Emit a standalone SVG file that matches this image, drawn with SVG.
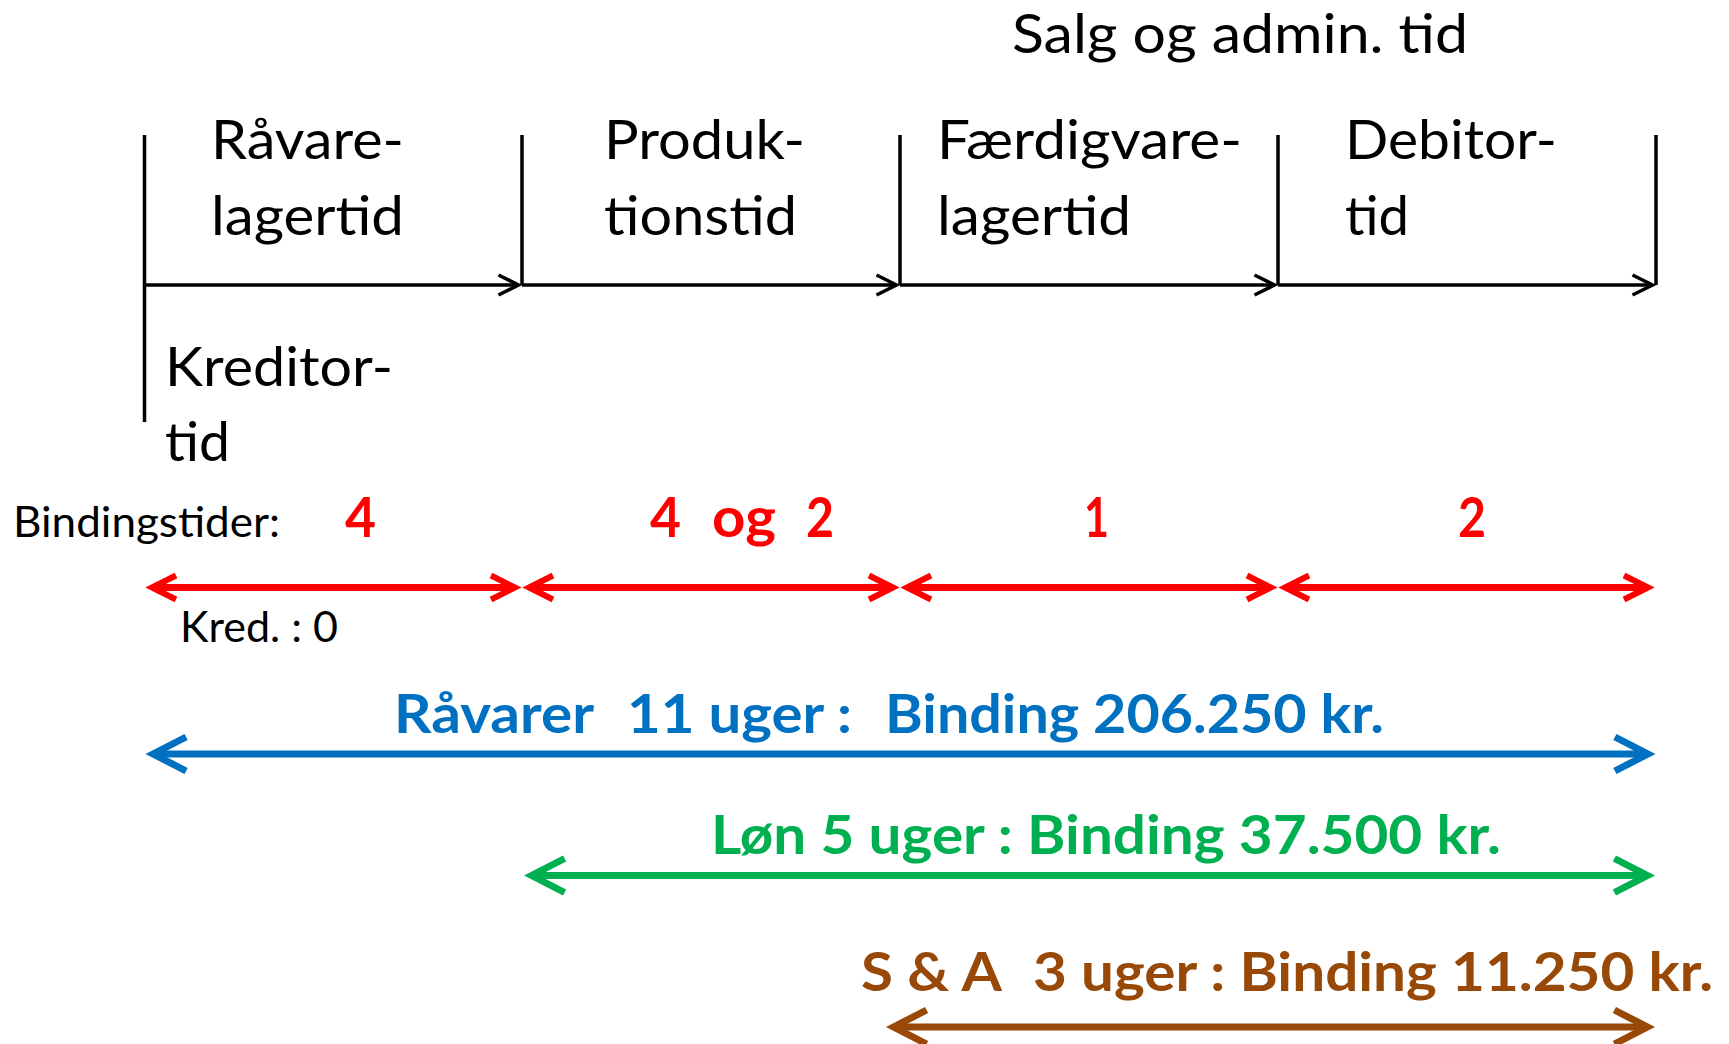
<svg xmlns="http://www.w3.org/2000/svg" width="1729" height="1044" viewBox="0 0 1729 1044">
<style>
  .lbl { font-family: "Lato", "Open Sans", sans-serif; font-size: 54px; fill: #000; }
  .sm { font-family: "Lato", "Open Sans", sans-serif; font-size: 42px; fill: #000; }
  .b { font-family: "Lato", "Open Sans", sans-serif; font-weight: bold; font-size: 54px; }
  .dg { font-size: 56px; }
  .red { fill: #FF0000; }
  .blue { fill: #0070C0; }
  .green { fill: #00B050; }
  .brown { fill: #984807; }
  .tl { stroke: #000; stroke-width: 3.5; fill: none; }
  .ar { fill: none; stroke-width: 7; }
</style>
<defs>
  <marker id="mBlack" markerUnits="userSpaceOnUse" orient="auto-start-reverse" refX="-0.5" refY="0" overflow="visible">
    <path d="M -20,-10 L 0,0 L -20,10" fill="none" stroke="#000" stroke-width="3.5"/>
  </marker>
  <marker id="mRed" markerUnits="userSpaceOnUse" orient="auto-start-reverse" refX="-2" refY="0" overflow="visible">
    <path d="M -24,-12 L 0,0 L -24,12" fill="none" stroke="#FF0000" stroke-width="6"/>
  </marker>
  <marker id="mBlue" markerUnits="userSpaceOnUse" orient="auto-start-reverse" refX="-2.4" refY="0" overflow="visible">
    <path d="M -33,-17 L 0,0 L -33,17" fill="none" stroke="#0070C0" stroke-width="7"/>
  </marker>
  <marker id="mGreen" markerUnits="userSpaceOnUse" orient="auto-start-reverse" refX="-2.4" refY="0" overflow="visible">
    <path d="M -33,-17 L 0,0 L -33,17" fill="none" stroke="#00B050" stroke-width="7"/>
  </marker>
  <marker id="mBrown" markerUnits="userSpaceOnUse" orient="auto-start-reverse" refX="-2.4" refY="0" overflow="visible">
    <path d="M -33,-17 L 0,0 L -33,17" fill="none" stroke="#984807" stroke-width="7"/>
  </marker>
</defs>
<rect width="1729" height="1044" fill="#fff"/>

<g id="timeline">
  <line class="tl" x1="144.5" y1="135" x2="144.5" y2="422"/>
  <line class="tl" x1="522" y1="135" x2="522" y2="285"/>
  <line class="tl" x1="900" y1="135" x2="900" y2="285"/>
  <line class="tl" x1="1278" y1="135" x2="1278" y2="285"/>
  <line class="tl" x1="1656" y1="135" x2="1656" y2="285"/>
</g>

<g id="connectors">
  <path class="tl" d="M 144.5,285 H 518" marker-end="url(#mBlack)"/>
  <path class="tl" d="M 522,285 H 896" marker-end="url(#mBlack)"/>
  <path class="tl" d="M 900,285 H 1274" marker-end="url(#mBlack)"/>
  <path class="tl" d="M 1278,285 H 1652" marker-end="url(#mBlack)"/>

  <path class="ar" stroke="#FF0000" stroke-width="6" d="M 154,587.5 H 513" marker-start="url(#mRed)" marker-end="url(#mRed)"/>
  <path class="ar" stroke="#FF0000" stroke-width="6" d="M 531,587.5 H 891" marker-start="url(#mRed)" marker-end="url(#mRed)"/>
  <path class="ar" stroke="#FF0000" stroke-width="6" d="M 909,587.5 H 1269" marker-start="url(#mRed)" marker-end="url(#mRed)"/>
  <path class="ar" stroke="#FF0000" stroke-width="6" d="M 1287,587.5 H 1646" marker-start="url(#mRed)" marker-end="url(#mRed)"/>

  <path class="ar" stroke="#0070C0" d="M 155.5,754 H 1645.5" marker-start="url(#mBlue)" marker-end="url(#mBlue)"/>
  <path class="ar" stroke="#00B050" d="M 534,875.5 H 1645" marker-start="url(#mGreen)" marker-end="url(#mGreen)"/>
  <path class="ar" stroke="#984807" d="M 896,1027 H 1645" marker-start="url(#mBrown)" marker-end="url(#mBrown)"/>
</g>

<g id="salg-admin">
  <text class="lbl" x="1012" y="52.5" textLength="456" lengthAdjust="spacingAndGlyphs">Salg og admin. tid</text>
</g>
<g id="raavarelager">
  <text class="lbl" x="211" y="159" textLength="193" lengthAdjust="spacingAndGlyphs">Råvare-</text>
  <text class="lbl" x="211" y="235" textLength="193" lengthAdjust="spacingAndGlyphs">lagertid</text>
</g>
<g id="produktion">
  <text class="lbl" x="604" y="159" textLength="201" lengthAdjust="spacingAndGlyphs">Produk-</text>
  <text class="lbl" x="604" y="235" textLength="193" lengthAdjust="spacingAndGlyphs">tionstid</text>
</g>
<g id="faerdigvarelager">
  <text class="lbl" x="937" y="159" textLength="305" lengthAdjust="spacingAndGlyphs">Færdigvare-</text>
  <text class="lbl" x="937" y="235" textLength="194" lengthAdjust="spacingAndGlyphs">lagertid</text>
</g>
<g id="debitor">
  <text class="lbl" x="1345" y="159" textLength="212" lengthAdjust="spacingAndGlyphs">Debitor-</text>
  <text class="lbl" x="1345" y="235" textLength="64" lengthAdjust="spacingAndGlyphs">tid</text>
</g>
<g id="kreditor">
  <text class="lbl" x="165" y="386" textLength="228" lengthAdjust="spacingAndGlyphs">Kreditor-</text>
  <text class="lbl" x="165" y="461" textLength="65" lengthAdjust="spacingAndGlyphs">tid</text>
</g>

<g id="bindingstider">
  <text class="sm" x="13" y="537" textLength="267" lengthAdjust="spacingAndGlyphs">Bindingstider:</text>
  <text class="b dg red" x="345" y="537" textLength="31" lengthAdjust="spacingAndGlyphs">4</text>
  <text class="b dg red" x="650" y="537" textLength="31" lengthAdjust="spacingAndGlyphs">4</text>
  <text class="b dg red" x="712" y="537" textLength="64" lengthAdjust="spacingAndGlyphs">og</text>
  <text class="b dg red" x="806" y="537" textLength="28" lengthAdjust="spacingAndGlyphs">2</text>
  <text class="b dg red" x="1084" y="537" textLength="25" lengthAdjust="spacingAndGlyphs">1</text>
  <text class="b dg red" x="1458" y="537" textLength="28" lengthAdjust="spacingAndGlyphs">2</text>
  <text class="sm" x="180" y="642" textLength="158" lengthAdjust="spacingAndGlyphs">Kred. : 0</text>
</g>

<g id="raavarer">
  <text class="b blue" x="394" y="733" textLength="200" lengthAdjust="spacingAndGlyphs">Råvarer</text>
  <text class="b blue" x="627" y="733" textLength="225" lengthAdjust="spacingAndGlyphs">11 uger :</text>
  <text class="b blue" x="885" y="733" textLength="499" lengthAdjust="spacingAndGlyphs">Binding 206.250 kr.</text>
</g>
<g id="loen">
  <text class="b green" x="711" y="854" textLength="790" lengthAdjust="spacingAndGlyphs">Løn 5 uger : Binding 37.500 kr.</text>
</g>
<g id="sa">
  <text class="b brown" x="861" y="990.5" textLength="141" lengthAdjust="spacingAndGlyphs">S &amp; A</text>
  <text class="b brown" x="1033" y="990.5" textLength="680" lengthAdjust="spacingAndGlyphs">3 uger : Binding 11.250 kr.</text>
</g>
</svg>
